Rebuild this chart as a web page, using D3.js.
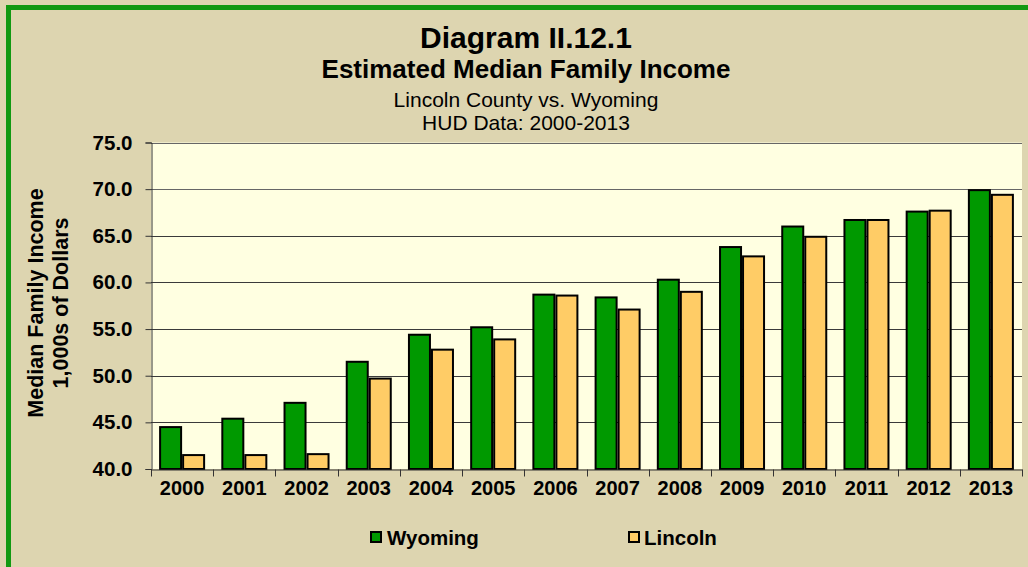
<!DOCTYPE html>
<html>
<head>
<meta charset="utf-8">
<script src="https://cdn.jsdelivr.net/npm/d3@7"></script>
<style>
  html, body { margin: 0; padding: 0; background: #DDD5B0; }
  svg { display: block; }
  text { font-family: "Liberation Sans", Arial, sans-serif; fill: #000; }
</style>
</head>
<body>
<svg id="chart" width="1028" height="567"></svg>
<script>
const years = ["2000","2001","2002","2003","2004","2005","2006","2007","2008","2009","2010","2011","2012","2013"];
const seriesNames = ["Wyoming", "Lincoln"];
const wyoming = [44.6, 45.5, 47.2, 51.6, 54.5, 55.3, 58.8, 58.5, 60.4, 63.9, 66.1, 66.8, 67.7, 70.0];
const lincoln = [41.6, 41.6, 41.7, 49.8, 52.9, 54.0, 58.7, 57.2, 59.1, 62.9, 65.0, 66.8, 67.8, 69.5];
const yTicks = [40, 45, 50, 55, 60, 65, 70, 75];
const titleLines = ["Diagram II.12.1", "Estimated Median Family Income", "Lincoln County vs. Wyoming", "HUD Data: 2000-2013"];
const yTitleLines = ["Median Family Income", "1,000s of Dollars"];
const colors = { Wyoming: "#009900", Lincoln: "#FFCC66" };

const svg = d3.select("#chart");
const W = 1028, H = 567;

// background
svg.append("rect").attr("x", 0).attr("y", 0).attr("width", W).attr("height", H).attr("fill", "#DDD5B0");
// green frame (left and top)
svg.append("path")
  .attr("d", `M8.5,${H + 5} L8.5,7.5 L${W + 5},7.5`)
  .attr("fill", "none").attr("stroke", "#119911").attr("stroke-width", 5);

const plot = { left: 151, right: 1022, top: 142.5, bottom: 469 };

const x0 = d3.scaleBand().domain(years).range([plot.left, plot.right]).padding(0);
const x1 = d3.scaleBand().domain(seriesNames).range([0, x0.bandwidth()]).paddingInner(0).paddingOuter(0.352);
const y = d3.scaleLinear().domain([40, 75]).range([plot.bottom, plot.top]);

// plot background
svg.append("rect")
  .attr("x", plot.left).attr("y", plot.top)
  .attr("width", plot.right - plot.left).attr("height", plot.bottom - plot.top)
  .attr("fill", "#FFFFE1");

// gridlines
svg.append("g").selectAll("line").data(yTicks.filter(d => d > 40)).join("line")
  .attr("x1", plot.left).attr("x2", plot.right)
  .attr("y1", d => Math.round(y(d)) + 0.5).attr("y2", d => Math.round(y(d)) + 0.5)
  .attr("stroke", d => d >= 70 ? "#666" : "#3a3a3a").attr("stroke-width", 1);

// bars
const data = years.map((yr, i) => ({ year: yr, values: [
  { key: "Wyoming", value: wyoming[i] },
  { key: "Lincoln", value: lincoln[i] }
]}));

const groups = svg.append("g").selectAll("g").data(data).join("g")
  .attr("transform", d => `translate(${x0(d.year)},0)`);
groups.selectAll("rect").data(d => d.values).join("rect")
  .attr("x", d => x1(d.key) + 1)
  .attr("y", d => y(d.value) + 1)
  .attr("width", x1.bandwidth() - 2)
  .attr("height", d => y(40) - y(d.value) - 1)
  .attr("fill", d => colors[d.key])
  .attr("stroke", "#000").attr("stroke-width", 2);

// y axis
const yAxis = d3.axisLeft(y).tickValues(yTicks).tickSize(6).tickFormat(d3.format(".1f"));
const gy = svg.append("g").attr("transform", `translate(${plot.left + 0.5},0)`).call(yAxis);
gy.select(".domain").attr("stroke", "#333");
gy.selectAll(".tick line").attr("stroke", "#333");
gy.selectAll(".tick text")
  .attr("x", -19)
  .attr("font-size", 20.5).attr("font-weight", "bold")
  .attr("font-family", "Liberation Sans, Arial, sans-serif")
  .attr("fill", "#000");

// x axis
const xAxis = d3.axisBottom(x0).tickSize(0).tickPadding(0);
const gx = svg.append("g").attr("transform", `translate(0,${plot.bottom + 0.5})`).call(xAxis);
gx.select(".domain").attr("stroke", "#333");
gx.selectAll(".tick text")
  .attr("y", 25).attr("dy", 0)
  .attr("font-size", 20).attr("font-weight", "bold")
  .attr("font-family", "Liberation Sans, Arial, sans-serif")
  .attr("fill", "#000");
// boundary ticks between categories
const boundaries = years.map(yr => x0(yr)).concat([plot.right]);
gx.append("g").selectAll("line").data(boundaries).join("line")
  .attr("x1", d => Math.round(d) + 0.5).attr("x2", d => Math.round(d) + 0.5)
  .attr("y1", 0).attr("y2", 7)
  .attr("stroke", "#333");

// titles
const titleSpecs = [
  { size: 30, weight: "bold", y: 48 },
  { size: 26, weight: "bold", y: 78 },
  { size: 21, weight: "normal", y: 107 },
  { size: 21, weight: "normal", y: 130 }
];
svg.append("g").selectAll("text").data(titleLines).join("text")
  .attr("x", 526)
  .attr("y", (d, i) => titleSpecs[i].y)
  .attr("text-anchor", "middle")
  .attr("font-size", (d, i) => titleSpecs[i].size)
  .attr("font-weight", (d, i) => titleSpecs[i].weight)
  .text(d => d);

// y axis title
const yTitleX = [43, 68];
svg.append("g").selectAll("text").data(yTitleLines).join("text")
  .attr("transform", (d, i) => `translate(${yTitleX[i]},303) rotate(-90)`)
  .attr("text-anchor", "middle")
  .attr("font-size", 21.5).attr("font-weight", "bold")
  .text(d => d);

// legend
const legendPos = [{ box: 371, text: 387 }, { box: 629, text: 644 }];
const legend = svg.append("g").selectAll("g").data(seriesNames).join("g");
legend.append("rect")
  .attr("x", (d, i) => legendPos[i].box).attr("y", 532)
  .attr("width", 10).attr("height", 10)
  .attr("fill", d => colors[d]).attr("stroke", "#000").attr("stroke-width", 2);
legend.append("text")
  .attr("x", (d, i) => legendPos[i].text).attr("y", 545)
  .attr("font-size", 20.5).attr("font-weight", "bold")
  .text(d => d);
</script>
</body>
</html>
